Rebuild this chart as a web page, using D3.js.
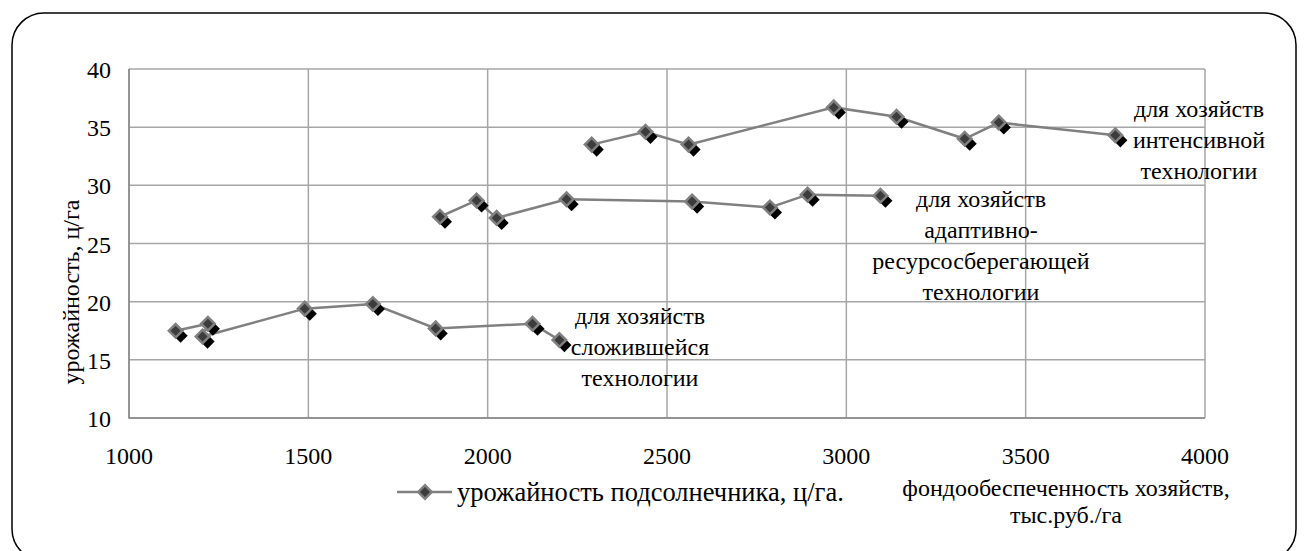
<!DOCTYPE html>
<html>
<head>
<meta charset="utf-8">
<script src="https://cdn.jsdelivr.net/npm/d3@7"></script>
<style>
  body { margin: 0; background: #fff; }
</style>
</head>
<body>
<div id="chart"></div>
<script>
// fund supply (x) and sunflower yield (y) for three groups of farms
const fundTraditional = [1130, 1220, 1205, 1490, 1680, 1855, 2125, 2200];
const yieldTraditional = [17.5, 18.1, 17.0, 19.4, 19.8, 17.7, 18.1, 16.7];

const fundAdaptive = [1867, 1969, 2025, 2220, 2570, 2787, 2892, 3095];
const yieldAdaptive = [27.3, 28.7, 27.2, 28.8, 28.6, 28.1, 29.2, 29.1];

const fundIntensive = [2290, 2440, 2560, 2965, 3140, 3330, 3425, 3750];
const yieldIntensive = [33.5, 34.6, 33.5, 36.7, 35.9, 34.0, 35.4, 34.3];

const xTicks = [1000, 1500, 2000, 2500, 3000, 3500, 4000];
const yTicks = [10, 15, 20, 25, 30, 35, 40];

const groupLabels = [
  ["для хозяйств", "сложившейся", "технологии"],
  ["для хозяйств", "адаптивно-", "ресурсосберегающей", "технологии"],
  ["для хозяйств", "интенсивной", "технологии"]
];
const yTitle = "урожайность, ц/га";
const xTitle = ["фондообеспеченность хозяйств,", "тыс.руб./га"];
const legendLabel = "урожайность подсолнечника, ц/га.";

const width = 1308;
const height = 551;
const plot = { left: 129, top: 69, right: 1205, bottom: 418 };
const fontSize = 24;
const serif = "Liberation Serif";

const svg = d3
  .select("#chart")
  .append("svg")
  .attr("width", width)
  .attr("height", height);

// outer rounded frame
svg
  .append("rect")
  .attr("x", 12)
  .attr("y", 13)
  .attr("width", 1284)
  .attr("height", 548)
  .attr("rx", 32)
  .attr("fill", "#fff")
  .attr("stroke", "#000")
  .attr("stroke-width", 1.5);

const x = d3.scaleLinear().domain([1000, 4000]).range([plot.left, plot.right]);
const y = d3.scaleLinear().domain([10, 40]).range([plot.bottom, plot.top]);

// grid
svg
  .selectAll("line.hgrid")
  .data(yTicks)
  .join("line")
  .attr("class", "hgrid")
  .attr("x1", plot.left)
  .attr("x2", plot.right)
  .attr("y1", (d) => y(d))
  .attr("y2", (d) => y(d))
  .attr("stroke", "#a6a6a6")
  .attr("stroke-width", 1.5);

svg
  .selectAll("line.vgrid")
  .data(xTicks)
  .join("line")
  .attr("class", "vgrid")
  .attr("x1", (d) => x(d))
  .attr("x2", (d) => x(d))
  .attr("y1", plot.top)
  .attr("y2", plot.bottom)
  .attr("stroke", "#a6a6a6")
  .attr("stroke-width", 1.5);

// plot border (left and bottom a bit darker)
svg
  .append("path")
  .attr("d", `M${plot.left},${plot.top}V${plot.bottom}H${plot.right}`)
  .attr("fill", "none")
  .attr("stroke", "#868686")
  .attr("stroke-width", 1.5);

// tick labels
svg
  .selectAll("text.ytick")
  .data(yTicks)
  .join("text")
  .attr("class", "ytick")
  .attr("x", plot.left - 18)
  .attr("y", (d) => y(d) + 9)
  .attr("text-anchor", "end")
  .attr("font-family", serif)
  .attr("font-size", fontSize)
  .text((d) => d);

svg
  .selectAll("text.xtick")
  .data(xTicks)
  .join("text")
  .attr("class", "xtick")
  .attr("x", (d) => x(d))
  .attr("y", plot.bottom + 46)
  .attr("text-anchor", "middle")
  .attr("font-family", serif)
  .attr("font-size", fontSize)
  .text((d) => d);

// axis titles
svg
  .append("text")
  .attr("transform", "translate(79,292) rotate(-90)")
  .attr("text-anchor", "middle")
  .attr("font-family", serif)
  .attr("font-size", fontSize)
  .text(yTitle);

svg
  .append("text")
  .attr("text-anchor", "middle")
  .attr("font-family", serif)
  .attr("font-size", fontSize)
  .selectAll("tspan")
  .data(xTitle)
  .join("tspan")
  .attr("x", 1066)
  .attr("y", (d, i) => 496 + i * 27)
  .text((d) => d);

// series
const series = [
  d3.zip(fundTraditional, yieldTraditional),
  d3.zip(fundAdaptive, yieldAdaptive),
  d3.zip(fundIntensive, yieldIntensive)
];

const line = d3
  .line()
  .x((d) => x(d[0]))
  .y((d) => y(d[1]));

const diamond = d3.symbol().type(d3.symbolSquare).size(92);
const shadow = d3.symbol().type(d3.symbolSquare).size(100);

series.forEach(function (s) {
  svg
    .append("path")
    .datum(s)
    .attr("d", line)
    .attr("fill", "none")
    .attr("stroke", "#808080")
    .attr("stroke-width", 2.5);

  // black drop shadow
  svg
    .append("g")
    .selectAll("path")
    .data(s)
    .join("path")
    .attr("d", shadow)
    .attr("transform", (d) => `translate(${x(d[0]) + 5},${y(d[1]) + 5}) rotate(45)`)
    .attr("fill", "#000");

  svg
    .append("g")
    .selectAll("path")
    .data(s)
    .join("path")
    .attr("d", diamond)
    .attr("transform", (d) => `translate(${x(d[0])},${y(d[1])}) rotate(45)`)
    .attr("fill", "#3c3c3c")
    .attr("stroke", "#808080")
    .attr("stroke-width", 2.5);
});

// group annotations
const labelPos = [
  { cx: 640, top: 324 },
  { cx: 981, top: 207 },
  { cx: 1199, top: 117 }
];

groupLabels.forEach(function (lines, i) {
  svg
    .append("text")
    .attr("text-anchor", "middle")
    .attr("font-family", serif)
    .attr("font-size", fontSize)
    .selectAll("tspan")
    .data(lines)
    .join("tspan")
    .attr("x", labelPos[i].cx)
    .attr("y", (d, j) => labelPos[i].top + j * 31)
    .text((d) => d);
});

// legend
const legend = svg.append("g").attr("transform", "translate(397,492)");
legend
  .append("line")
  .attr("x1", 0)
  .attr("x2", 55)
  .attr("stroke", "#808080")
  .attr("stroke-width", 2.5);
legend
  .append("path")
  .attr("d", diamond)
  .attr("transform", "translate(28,0) rotate(45)")
  .attr("fill", "#3c3c3c")
  .attr("stroke", "#808080")
  .attr("stroke-width", 2.5);
legend
  .append("text")
  .attr("x", 60)
  .attr("y", 9)
  .attr("font-family", serif)
  .attr("font-size", 26.5)
  .text(legendLabel);
</script>
</body>
</html>
